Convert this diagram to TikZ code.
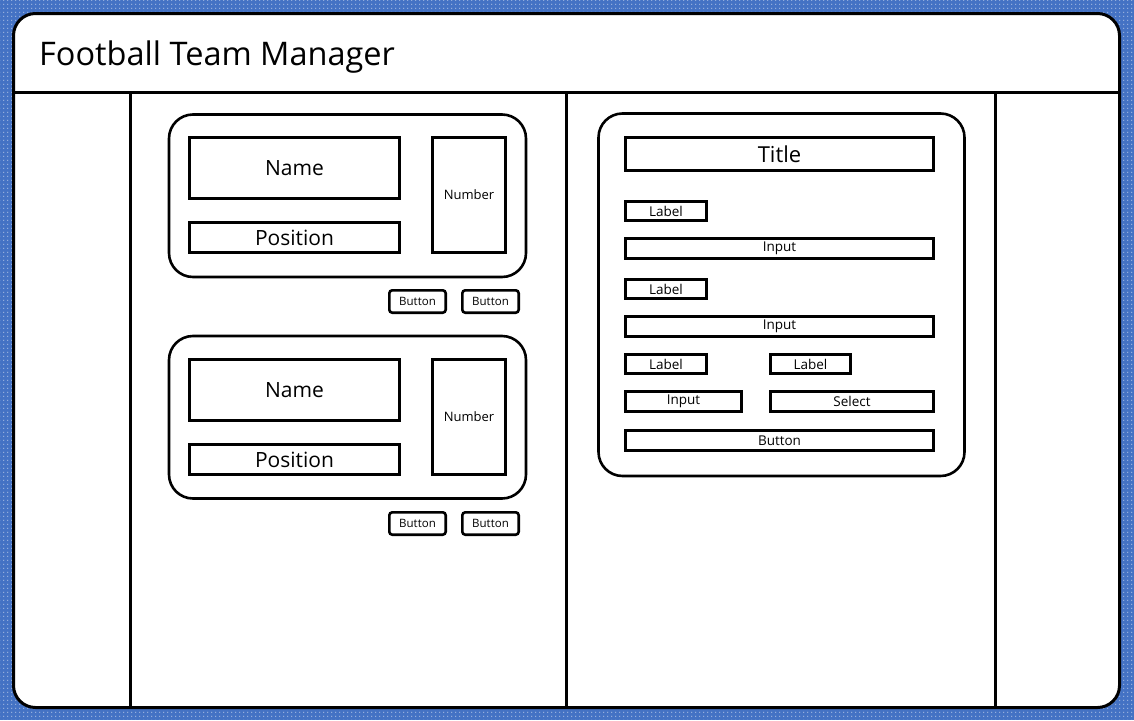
\documentclass[tikz,border=0pt]{standalone}
\usepackage{fontspec}
\setmainfont{Open Sans}
\usetikzlibrary{patterns.meta}
\definecolor{bgblue}{HTML}{4472C4}
\tikzdeclarepattern{
  name=mydots,
  type=uncolored,
  bottom left={(0pt,0pt)},
  top right={(4pt,4pt)},
  tile size={(4pt,4pt)},
  code={\fill (0.5pt,0.5pt) rectangle (1.5pt,1.5pt);}
}
\newcommand{\uibox}[7]{%
  \node[#1, minimum width={#4-#2-2.6}, minimum height={#5-#3-2.6}] (#6) at ({(#2+#4)/2},{(#3+#5)/2}) {#7};}
\tikzset{
  frame/.style={draw=black, line width=3pt},
  card/.style={draw=black, line width=2.6pt, rounded corners=24pt},
  box/.style={draw=black, line width=2.6pt, inner sep=0pt, fill=white},
  btn/.style={box, rounded corners=3pt},
  big/.style={font=\fontsize{21}{24}\selectfont},
  ttl/.style={font=\fontsize{22}{25}\selectfont},
  mid/.style={font=\fontsize{13.5}{15}\selectfont},
  sml/.style={font=\fontsize{13}{15}\selectfont},
  tiny/.style={font=\fontsize{11.5}{13}\selectfont},
}
\begin{document}
\begin{tikzpicture}[x=1pt,y=-1pt]
\useasboundingbox (0,0) rectangle (1134,720);
\fill[bgblue] (0,0) rectangle (1134,720);
\fill[pattern=mydots, pattern color=white] (0,0) rectangle (1134,720);
% outer window
\draw[frame, fill=white, rounded corners=22pt] (13.5,13.5) rectangle (1119.5,707.5);
\draw[frame] (13.5,92) -- (1119.5,92);
\draw[frame] (130,92) -- (130,707.5);
\draw[frame] (566,92) -- (566,707.5);
\draw[frame] (995,92) -- (995,707.5);
\node[anchor=base west, inner sep=0pt, font=\fontsize{32.5}{38}\selectfont] (apptitle) at (39,65) {Football Team Manager};
% player card 1
\draw[card] (169,114.5) rectangle (526,277);
\uibox{box,big}{188}{136}{401}{200}{name1}{Name}
\uibox{box,big}{188}{221}{401}{254}{pos1}{Position}
\uibox{box,sml}{431}{136}{507}{254}{num1}{Number}
\uibox{btn,tiny}{388}{289}{447}{314}{btna1}{Button}
\uibox{btn,tiny}{461}{289}{520}{314}{btnb1}{Button}
% player card 2
\draw[card] (169,336) rectangle (526,498.5);
\uibox{box,big}{188}{358}{401}{422}{name2}{Name}
\uibox{box,big}{188}{443}{401}{476}{pos2}{Position}
\uibox{box,sml}{431}{358}{507}{476}{num2}{Number}
\uibox{btn,tiny}{388}{511}{447}{536}{btna2}{Button}
\uibox{btn,tiny}{461}{511}{520}{536}{btnb2}{Button}
% form card
\draw[card] (598.5,113.5) rectangle (964.5,476);
\uibox{box,ttl}{624}{136}{935}{172}{ftitle}{Title}
\uibox{box,mid}{624}{200}{708}{222}{lab1}{Label}
\uibox{box,mid}{624}{237}{935}{260}{inp1}{Input}
\uibox{box,mid}{624}{278}{708}{300}{lab2}{Label}
\uibox{box,mid}{624}{315}{935}{338}{inp2}{Input}
\uibox{box,mid}{624}{353}{708}{375}{lab3}{Label}
\uibox{box,mid}{769}{353}{852}{375}{lab4}{Label}
\uibox{box,mid}{624}{390}{743}{413}{inp3}{Input}
\uibox{box,mid}{769}{390}{935}{413}{sel}{Select}
\uibox{box,mid}{624}{429}{935}{452}{fbtn}{Button}
\end{tikzpicture}
\end{document}
